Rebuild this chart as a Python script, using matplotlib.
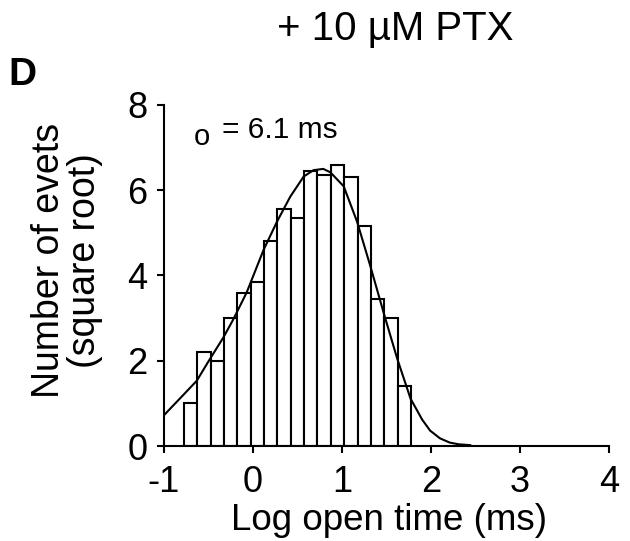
import numpy as np
import matplotlib.pyplot as plt

plt.rcParams['font.family'] = ['Liberation Sans', 'DejaVu Sans']
plt.rcParams['axes.unicode_minus'] = False

# histogram bins (log open time, ms) and square-root counts
bin_centers = [-0.7, -0.55, -0.4, -0.25, -0.1, 0.05, 0.2, 0.35, 0.5,
               0.65, 0.8, 0.95, 1.1, 1.25, 1.4, 1.55, 1.7]
counts_sqrt = [1.0, 2.2, 2.0, 3.0, 3.6, 3.85, 4.8, 5.55, 5.35,
               6.45, 6.35, 6.6, 6.3, 5.15, 3.45, 3.0, 1.4]
bin_width = 0.15

# fitted curve
fit_x = [-0.99, -0.78, -0.63, -0.5, -0.33, -0.22, -0.07, 0.12, 0.27, 0.42,
         0.57, 0.68, 0.79, 0.87, 1.02, 1.17, 1.32, 1.47, 1.62, 1.77,
         1.9, 1.99, 2.1, 2.21, 2.31, 2.44]
fit_y = [0.74, 1.2, 1.53, 1.98, 2.55, 2.97, 3.6, 4.6, 5.26, 5.85,
         6.32, 6.47, 6.5, 6.42, 6.09, 5.26, 4.21, 3.11, 2.05, 1.11,
         0.62, 0.36, 0.18, 0.08, 0.04, 0.02]

fig = plt.figure(figsize=(6.3, 5.41), dpi=100)
ax = fig.add_axes([0.26, 0.1756, 0.707, 0.6304])

ax.bar(bin_centers, counts_sqrt, width=bin_width, color='white',
       edgecolor='black', linewidth=1.5)
ax.plot(fit_x, fit_y, color='black', linewidth=1.5)

ax.set_xlim(-1, 4)
ax.set_ylim(0, 8)
ax.set_xticks([-1, 0, 1, 2, 3, 4])
ax.set_yticks([0, 2, 4, 6, 8])
ax.spines['top'].set_visible(False)
ax.spines['right'].set_visible(False)
ax.spines['left'].set_linewidth(1.5)
ax.spines['bottom'].set_linewidth(1.5)
ax.tick_params(labelsize=26, width=1.5, length=5)
ax.tick_params(axis='x', pad=9)
ax.tick_params(axis='y', pad=7)

ax.set_xlabel('Log open time (ms)', fontsize=26.5, va='baseline')
ax.xaxis.set_label_coords(0.506, -0.246)
ax.set_ylabel('Number of evets\n(square root)', fontsize=27,
              linespacing=1.0, va='center', multialignment='center')
ax.yaxis.set_label_coords(-0.218, 0.545)

ax.text(-0.66, 7.07, 'o', fontsize=21)
ax.text(-0.35, 7.23, '= 6.1 ms', fontsize=21.5)

fig.text(0.627, 0.946, '+ 10 µM PTX', fontsize=29, ha='center', va='center')
fig.text(0.014, 0.862, 'D', fontsize=28, fontweight='bold', va='center')

fig.savefig('out.png', dpi=100)
